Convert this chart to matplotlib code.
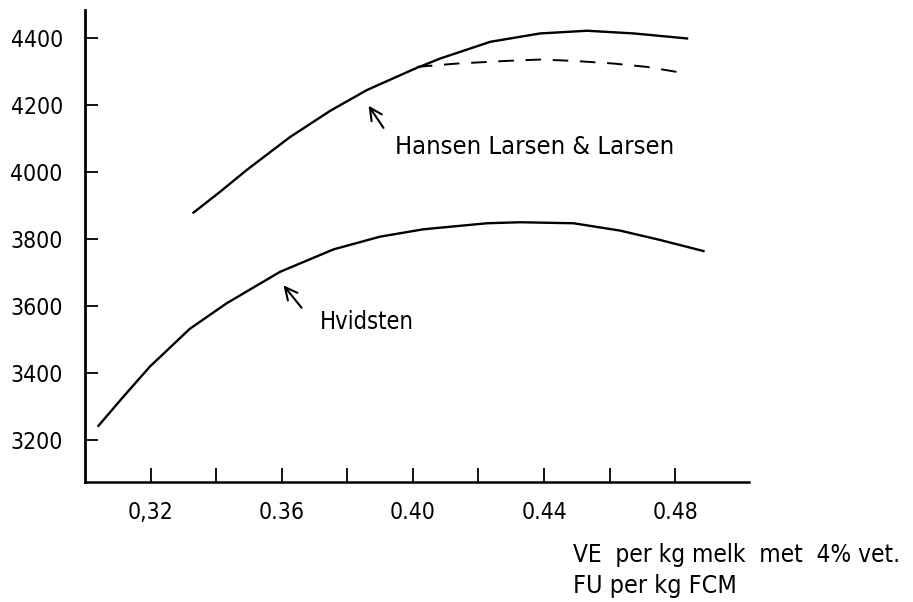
import matplotlib
matplotlib.use('Agg')
import matplotlib.pyplot as plt

# narrow face to get close to the hand lettering
plt.rcParams['font.family'] = ['DejaVu Sans']
plt.rcParams['font.stretch'] = 'condensed'

# Curves (FU per kg FCM vs. yield)
hvid_x = [0.3041, 0.3117, 0.3198, 0.3320, 0.3432, 0.3595, 0.3758, 0.3900,
          0.4032, 0.4226, 0.4327, 0.4490, 0.4632, 0.4754, 0.4886]
hvid_y = [3242, 3329, 3419, 3532, 3608, 3702, 3769, 3807,
          3829, 3847, 3850, 3847, 3825, 3797, 3764]

hansen_x = [0.3331, 0.3412, 0.3493, 0.3626, 0.3748, 0.3860, 0.4002, 0.4083,
            0.4236, 0.4388, 0.4531, 0.4673, 0.4836]
hansen_y = [3879, 3941, 4006, 4105, 4183, 4245, 4307, 4339,
            4389, 4414, 4422, 4414, 4399]

dash_x = [0.4012, 0.4134, 0.4287, 0.4388, 0.4490, 0.4612, 0.4714, 0.4836]
dash_y = [4314, 4324, 4332, 4336, 4332, 4324, 4314, 4294]

y_ticks = [3200, 3400, 3600, 3800, 4000, 4200, 4400]
x_ticks = [0.32, 0.34, 0.36, 0.38, 0.40, 0.42, 0.44, 0.46, 0.48]
x_labels = ['0,32', '', '0.36', '', '0.40', '', '0.44', '', '0.48']

fig = plt.figure(figsize=(9.13, 6.02), dpi=100)
ax = fig.add_axes([0.0931, 0.1998, 0.7273, 0.7836])

ax.plot(hvid_x, hvid_y, color='black', lw=1.7)
ax.plot(hansen_x, hansen_y, color='black', lw=1.7)
ax.plot(dash_x, dash_y, color='black', lw=1.4, dashes=(8, 6))

ax.set_xlim(0.30, 0.5025)
ax.set_ylim(3075, 4484)

for s in ['top', 'right']:
    ax.spines[s].set_visible(False)
ax.spines['left'].set_linewidth(2.0)
ax.spines['bottom'].set_linewidth(1.8)

ax.set_yticks(y_ticks)
ax.set_yticklabels([str(v) for v in y_ticks])
ax.set_xticks(x_ticks)
ax.set_xticklabels(x_labels)
ax.tick_params(axis='y', direction='in', length=9, width=1.3, pad=16,
               labelsize=16.5)
ax.tick_params(axis='x', direction='in', length=10, width=1.3, pad=14,
               labelsize=16.5)

# annotations with arrows
arrow = dict(arrowstyle='->', lw=1.5, color='black', mutation_scale=22)
ax.annotate('', xy=(0.3860, 4205), xytext=(0.3915, 4125), arrowprops=arrow)
ax.annotate('', xy=(0.3600, 3668), xytext=(0.3666, 3588), arrowprops=arrow)
ax.text(0.3946, 4075, 'Hansen Larsen & Larsen', fontsize=18.3, va='center')
ax.text(0.3717, 3552, 'Hvidsten', fontsize=17, va='center')

# axis caption, two lines bottom right
fig.text(0.6276, 0.078, 'VE  per kg melk  met  4% vet.', fontsize=17.5,
         va='center')
fig.text(0.6276, 0.026, 'FU per kg FCM', fontsize=18, va='center')

fig.savefig('out.png', dpi=100)
